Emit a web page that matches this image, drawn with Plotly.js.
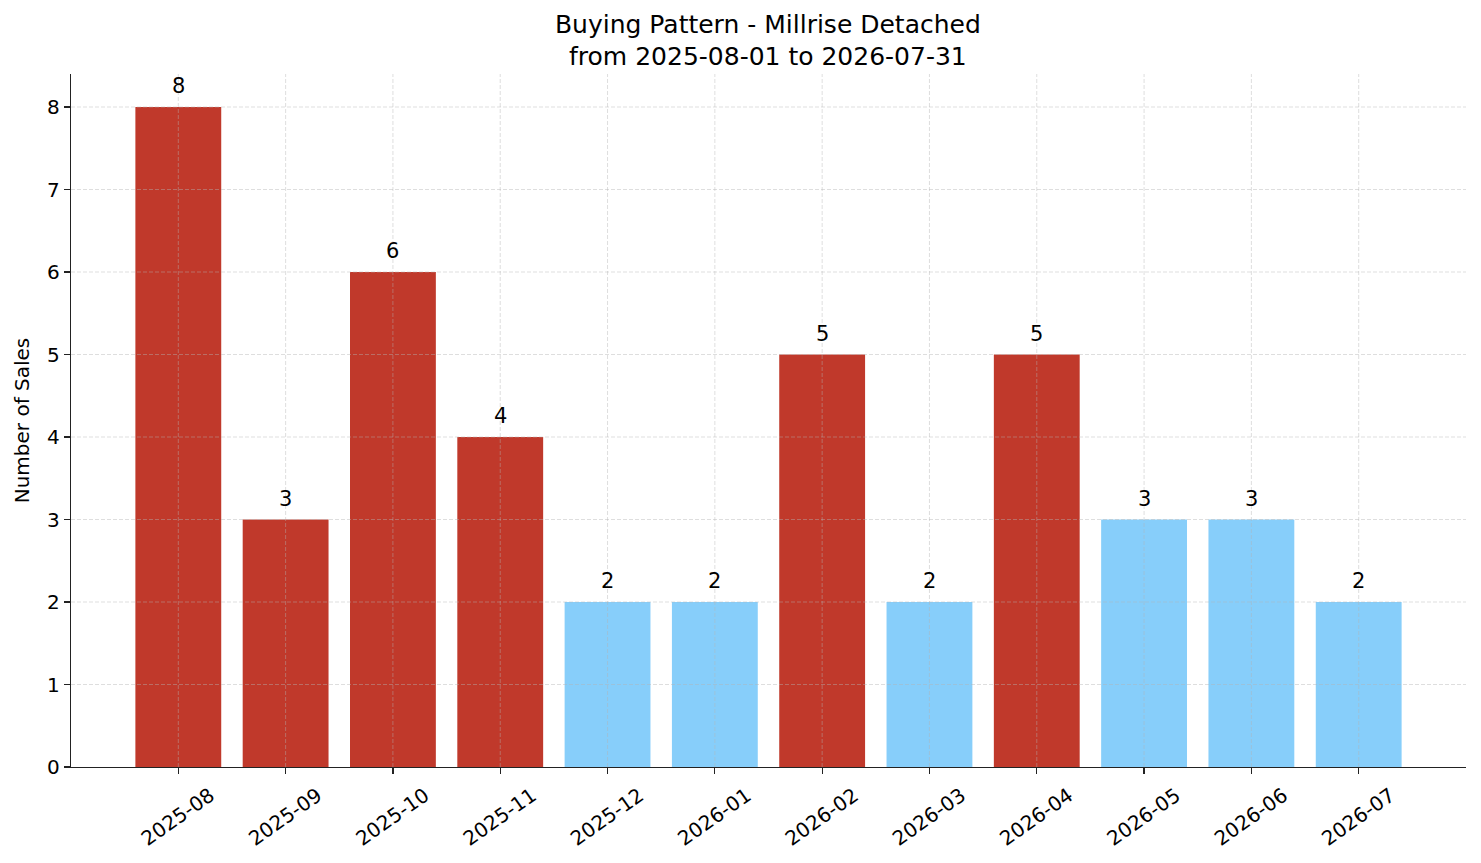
<!DOCTYPE html>
<html>
<head>
<meta charset="utf-8">
<script src="https://cdn.plot.ly/plotly-3.0.1.min.js"></script>
<style>
  html, body { margin: 0; padding: 0; background: #fff; }
  #chart { width: 1481px; height: 863px; }
</style>
</head>
<body>
<div id="chart"></div>
<script>
// ─── Data ─────────────────────────────────────────────────────────
const months = ['2025-08', '2025-09', '2025-10', '2025-11', '2025-12', '2026-01',
                '2026-02', '2026-03', '2026-04', '2026-05', '2026-06', '2026-07'];
const sales  = [8, 3, 6, 4, 2, 2, 5, 2, 5, 3, 3, 2];
// which months are flagged hot (red) vs quiet (light blue)
const isHot  = [true, true, true, true, false, false, true, false, true, false, false, false];
const yTicks = [0, 1, 2, 3, 4, 5, 6, 7, 8];

const HOT  = '#C0392B';
const COLD = '#87CEFA';
const barColors = isHot.map(h => h ? HOT : COLD);

const FONT = 'DejaVu Sans, sans-serif';
const GRID = 'rgba(180,180,180,0.55)';

// matplotlib draws the grid over the bars, so gridlines are shapes layered above
const gridShapes = [
    ...yTicks.slice(1).map(v => ({
        type: 'line', layer: 'above', xref: 'paper', yref: 'y',
        x0: 0, x1: 1, y0: v, y1: v,
        line: { color: GRID, width: 0.8, dash: '4px,2px' }
    })),
    ...months.map(m => ({
        type: 'line', layer: 'above', xref: 'x', yref: 'paper',
        x0: m, x1: m, y0: 0, y1: 1,
        line: { color: GRID, width: 0.8, dash: '4px,2px' }
    }))
];

// value labels sit a few px above each bar, like ax.bar_label(padding=3)
const valueLabels = months.map((m, i) => ({
    x: m, y: sales[i], xref: 'x', yref: 'y',
    text: String(sales[i]), showarrow: false,
    xanchor: 'center', yanchor: 'bottom', yshift: 7,
    font: { family: FONT, size: 21, color: '#000' }
}));

const data = [{
    type: 'bar',
    x: months,
    y: sales,
    width: 0.8,
    marker: { color: barColors },
    hoverinfo: 'x+y'
}];

const layout = {
    width: 1481, height: 863,
    margin: { l: 71, r: 15, t: 74, b: 96 },
    paper_bgcolor: '#fff', plot_bgcolor: '#fff',
    font: { family: FONT, size: 20, color: '#000' },
    showlegend: false,
    title: {
        text: 'Buying Pattern - Millrise Detached<br>from 2025-08-01 to 2026-07-31',
        x: 0.5185, xanchor: 'center', y: 0.962, yanchor: 'middle',
        font: { family: FONT, size: 25, color: '#000' }
    },
    xaxis: {
        type: 'category',
        range: [-1, 12],
        tickangle: -35,
        ticks: 'outside', ticklen: 6, tickwidth: 1.2, tickcolor: '#222',
        ticklabelshift: 32, ticklabelstandoff: 2,
        showgrid: false, zeroline: false,
        showline: true, linecolor: '#222', linewidth: 1.3,
        tickfont: { family: FONT, size: 20, color: '#000' }
    },
    yaxis: {
        range: [0, 8.4],
        tickvals: yTicks,
        ticks: 'outside', ticklen: 6, tickwidth: 1.2, tickcolor: '#222',
        showgrid: false, zeroline: false,
        showline: true, linecolor: '#222', linewidth: 1.3,
        tickfont: { family: FONT, size: 20, color: '#000' },
        title: { text: 'Number of Sales', standoff: 12, font: { family: FONT, size: 20, color: '#000' } }
    },
    bargap: 0.2,
    annotations: valueLabels,
    shapes: gridShapes
};

Plotly.newPlot('chart', data, layout, { displayModeBar: false, staticPlot: true });
</script>
</body>
</html>
